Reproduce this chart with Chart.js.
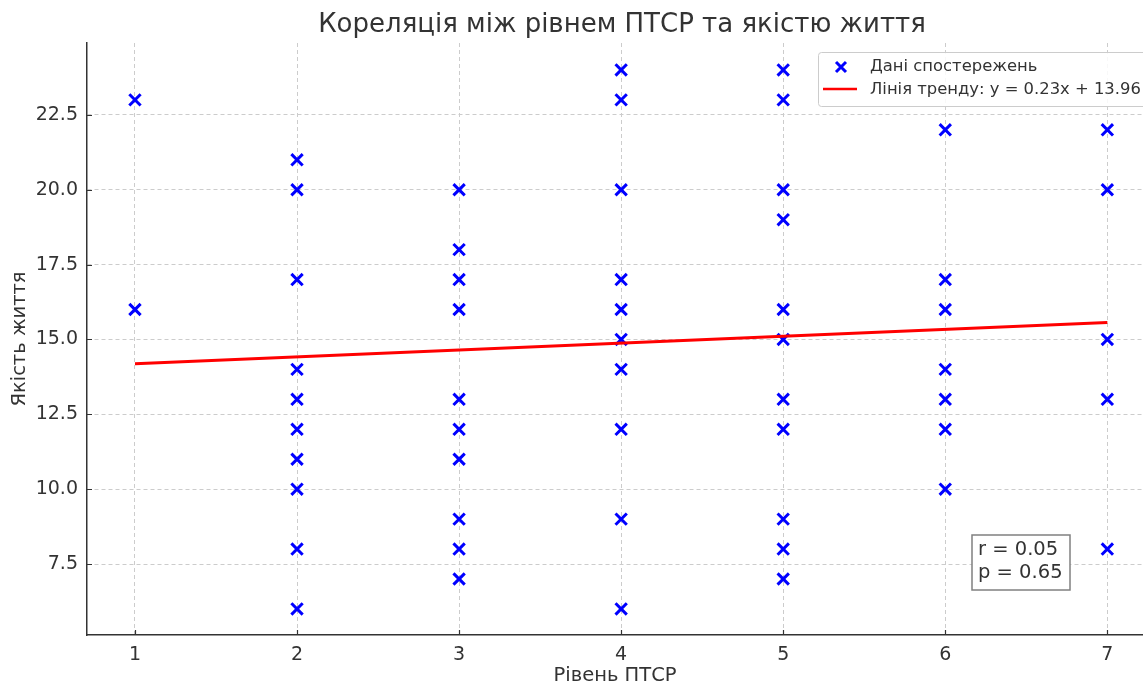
<!DOCTYPE html>
<html>
<head>
<meta charset="utf-8">
<script src="https://cdn.jsdelivr.net/npm/chart.js@4"></script>
<style>
  html, body { margin: 0; padding: 0; background: #fff; }
  #wrap { width: 1143px; height: 684px; }
</style>
</head>
<body>
<div id="wrap"><canvas id="myChart" width="1143" height="684"></canvas></div>
<script>
// observations: PTSD level (x) and quality of life (y)
var ptsdLevel = [1, 1,
  2, 2, 2, 2, 2, 2, 2, 2, 2, 2,
  3, 3, 3, 3, 3, 3, 3, 3, 3, 3,
  4, 4, 4, 4, 4, 4, 4, 4, 4, 4,
  5, 5, 5, 5, 5, 5, 5, 5, 5, 5, 5,
  6, 6, 6, 6, 6, 6, 6,
  7, 7, 7, 7, 7];
var lifeQuality = [23, 16,
  21, 20, 17, 14, 13, 12, 11, 10, 8, 6,
  20, 18, 17, 16, 13, 12, 11, 9, 8, 7,
  24, 23, 20, 17, 16, 15, 14, 12, 9, 6,
  24, 23, 20, 19, 16, 15, 13, 12, 9, 8, 7,
  22, 17, 16, 14, 13, 12, 10,
  22, 20, 15, 13, 8];

// trend line end points
var trendX = [1, 7];
var trendY = [14.19, 15.57];

var xTicks = [1, 2, 3, 4, 5, 6, 7];
var yTicks = [7.5, 10, 12.5, 15, 17.5, 20, 22.5];

var titleText = 'Кореляція між рівнем ПТСР та якістю життя';
var legendLabels = ['Дані спостережень', 'Лінія тренду: y = 0.23x + 13.96'];
var statsLines = ['r = 0.05', 'p = 0.65'];

var scatterData = ptsdLevel.map(function (x, i) { return { x: x, y: lifeQuality[i] }; });
var trendData = trendX.map(function (x, i) { return { x: x, y: trendY[i] }; });

var FONT = "'DejaVu Sans', sans-serif";
var TXT = '#333333';

// title, inward ticks, legend + stats box (the original figure is cropped on the right)
var overlay = {
  id: 'overlay',
  afterDraw: function (chart) {
    var c = chart.ctx;
    var area = chart.chartArea;
    var sx = chart.scales.x, sy = chart.scales.y;
    c.save();

    // inward tick marks
    c.strokeStyle = '#333333';
    c.lineWidth = 1.2;
    c.beginPath();
    xTicks.forEach(function (v) {
      var px = Math.round(sx.getPixelForValue(v)) + 0.5;
      c.moveTo(px, area.bottom); c.lineTo(px, area.bottom - 5);
    });
    yTicks.forEach(function (v) {
      var py = Math.round(sy.getPixelForValue(v)) + 0.5;
      c.moveTo(area.left, py); c.lineTo(area.left + 5, py);
    });
    c.stroke();

    c.fillStyle = TXT;
    c.font = '26px ' + FONT;
    c.textAlign = 'center';
    c.textBaseline = 'middle';
    c.fillText(titleText, 622, 25);

    // legend box
    c.fillStyle = 'rgba(255,255,255,0.85)';
    c.strokeStyle = '#cccccc';
    c.lineWidth = 1;
    c.beginPath();
    c.roundRect(818.5, 52.5, 340, 54, 3);
    c.fill();
    c.stroke();

    c.strokeStyle = '#0000ff';
    c.lineWidth = 3;
    c.beginPath();
    c.moveTo(836, 62); c.lineTo(846, 72);
    c.moveTo(846, 62); c.lineTo(836, 72);
    c.stroke();

    c.strokeStyle = '#ff0000';
    c.lineWidth = 2.5;
    c.beginPath();
    c.moveTo(823, 89); c.lineTo(857, 89);
    c.stroke();

    c.fillStyle = TXT;
    c.font = '16.4px ' + FONT;
    c.textAlign = 'left';
    c.fillText(legendLabels[0], 870, 67);
    c.fillText(legendLabels[1], 870, 90);

    // stats box
    c.fillStyle = '#ffffff';
    c.fillRect(972, 535, 98, 55);
    c.strokeStyle = '#808080';
    c.lineWidth = 1.5;
    c.strokeRect(972, 535, 98, 55);
    c.fillStyle = TXT;
    c.font = '19.5px ' + FONT;
    c.fillText(statsLines[0], 978, 550);
    c.fillText(statsLines[1], 978, 573);
    c.restore();
  }
};

var ctx = document.getElementById('myChart').getContext('2d');
var chart = new Chart(ctx, {
  type: 'scatter',
  data: {
    datasets: [{
      label: legendLabels[0],
      data: scatterData,
      pointStyle: 'crossRot',
      pointRadius: 8,
      pointHoverRadius: 8,
      pointBorderWidth: 3,
      borderColor: '#0000ff',
      backgroundColor: '#0000ff',
      order: 2
    }, {
      label: legendLabels[1],
      type: 'line',
      data: trendData,
      borderColor: '#ff0000',
      borderWidth: 3,
      pointRadius: 0,
      fill: false,
      order: 1
    }]
  },
  options: {
    responsive: false,
    animation: false,
    layout: { autoPadding: false, padding: { left: 0, right: 0, top: 43, bottom: 0 } },
    plugins: {
      legend: { display: false },
      tooltip: { enabled: false },
      title: { display: false }
    },
    scales: {
      x: {
        type: 'linear',
        min: 0.704,
        max: 7.22,
        afterFit: function (s) { s.height = 49; s.paddingRight = 0; s.paddingLeft = 0; },
        afterBuildTicks: function (s) { s.ticks = xTicks.map(function (v) { return { value: v }; }); },
        ticks: {
          color: TXT,
          font: { family: FONT, size: 19 },
          padding: 9,
          callback: function (v) { return v; }
        },
        grid: { color: '#cccccc', drawTicks: false },
        border: { display: true, color: '#333333', width: 1.5, dash: [4, 3] },
        title: {
          display: true,
          text: 'Рівень ПТСР',
          color: TXT,
          font: { family: FONT, size: 19.5, lineHeight: 0.8 },
          padding: { top: 0, bottom: 0 }
        }
      },
      y: {
        min: 5.13,
        max: 24.9,
        afterFit: function (s) { s.width = 87; s.paddingTop = 0; s.paddingBottom = 0; },
        afterBuildTicks: function (s) { s.ticks = yTicks.map(function (v) { return { value: v }; }); },
        ticks: {
          color: TXT,
          font: { family: FONT, size: 19 },
          padding: 9,
          callback: function (v) { return Number(v).toFixed(1); }
        },
        grid: { color: '#cccccc', drawTicks: false },
        border: { display: true, color: '#333333', width: 1.5, dash: [4, 3] },
        title: {
          display: true,
          text: 'Якість життя',
          color: TXT,
          font: { family: FONT, size: 19.5, lineHeight: 1.0 },
          padding: { top: 10, bottom: 0 }
        }
      }
    }
  },
  plugins: [overlay]
});
</script>
</body>
</html>
